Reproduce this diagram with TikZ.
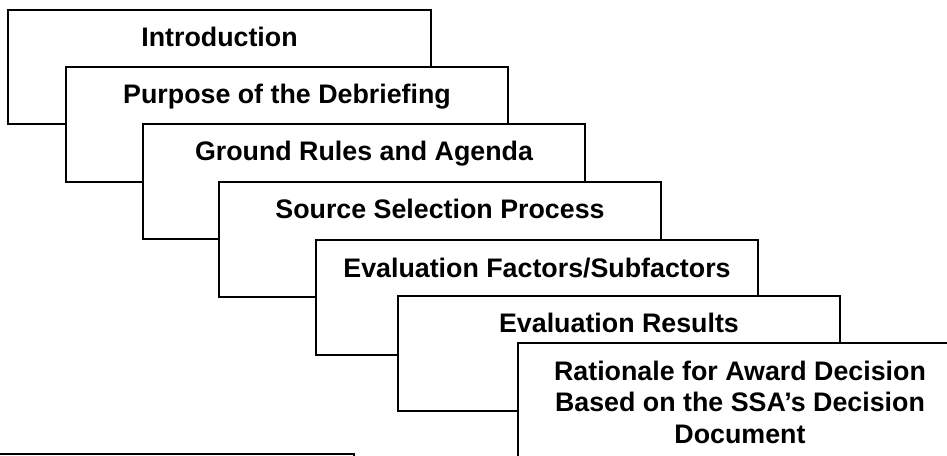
\documentclass[tikz,border=0pt]{standalone}
\usepackage{fontspec}
\setmainfont{Liberation Sans}
\begin{document}
\begin{tikzpicture}[x=0.75pt,y=-0.75pt,
  card/.style={draw=black, fill=white, line width=1.5pt, inner sep=0pt, outer sep=0pt,
    minimum width=331.5pt, minimum height=86.25pt, anchor=north west},
  lbl/.style={font=\bfseries\fontsize{20.1}{23.6}\selectfont, anchor=base, align=center, inner sep=0pt}]
\useasboundingbox (0,0) rectangle (947,456);
\clip (0,0) rectangle (947,456);
\node[card, minimum width=317.25pt, minimum height=85.5pt] (b1) at (8,10) {};
\node[lbl] (t1) at (219.5,46.5) {Introduction};
\node[card] (b2) at (66,67) {};
\node[lbl] (t2) at (287,104) {Purpose of the Debriefing};
\node[card] (b3) at (143,124) {};
\node[lbl] (t3) at (364,161) {Ground Rules and Agenda};
\node[card] (b4) at (219,182) {};
\node[lbl] (t4) at (440,219) {Source Selection Process};
\node[card] (b5) at (316,240) {};
\node[lbl] (t5) at (537,277) {Evaluation Factors/Subfactors};
\node[card] (b6) at (398,296) {};
\node[lbl] (t6) at (619,333) {Evaluation Results};
\node[card] (b7) at (518,343) {};
\node[lbl] (t7) at (740,443) {Rationale for Award Decision\\Based on the SSA’s Decision\\Document};
\node[card, anchor=north east] (b8) at (354,454) {};
\end{tikzpicture}
\end{document}
